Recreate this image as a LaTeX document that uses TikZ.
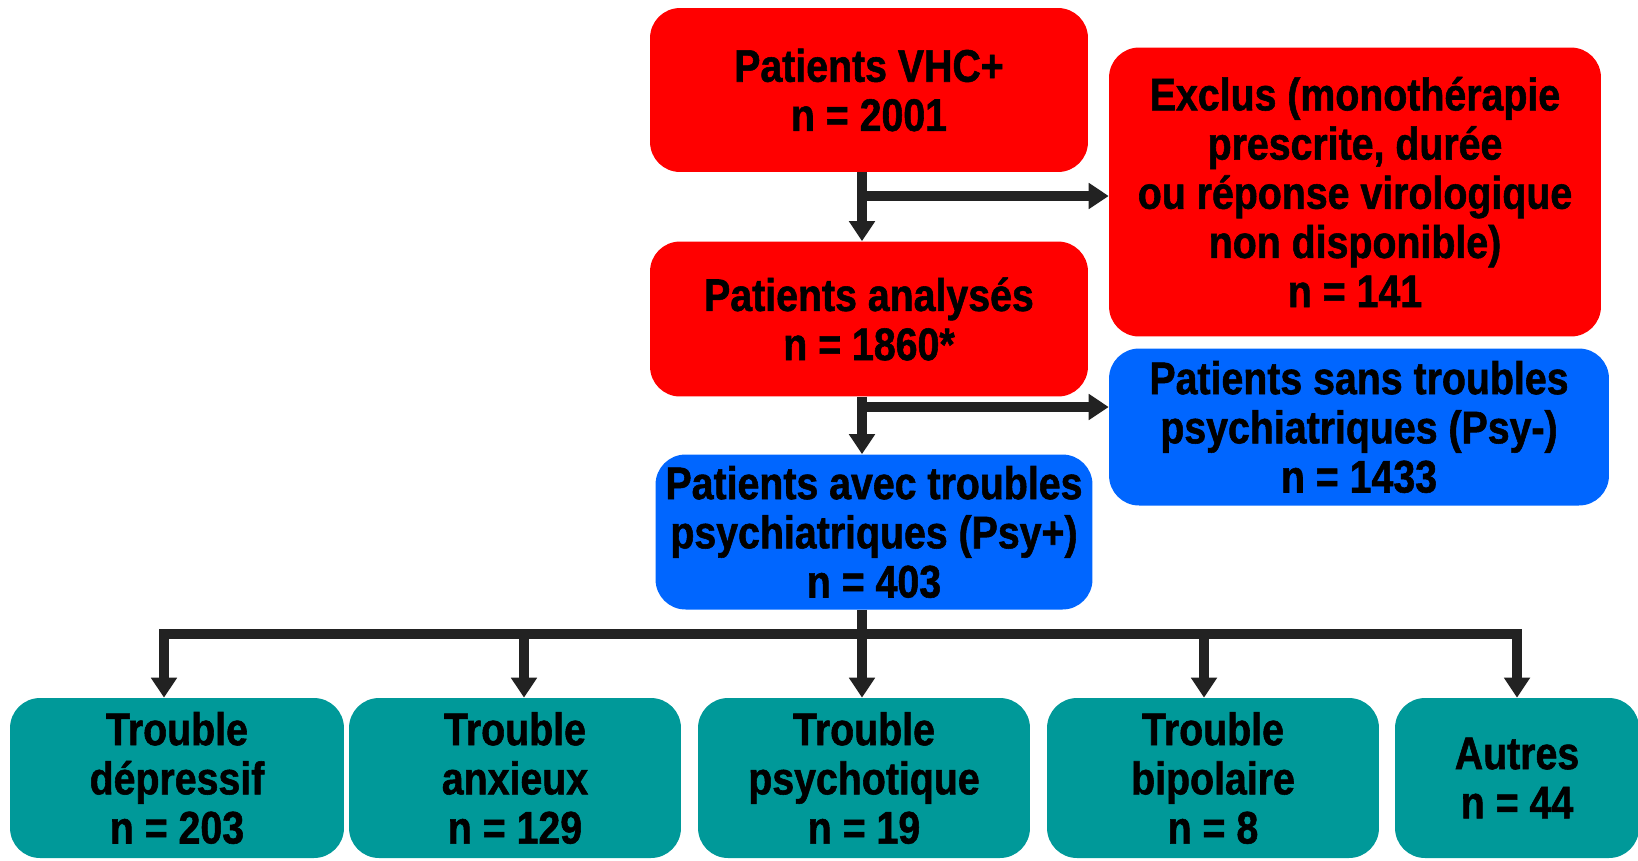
\documentclass[tikz,border=0pt]{standalone}
\usepackage{fontspec}
\setmainfont{Liberation Sans}[FakeStretch=0.86,BoldFeatures={FakeBold=1.2}]
\usetikzlibrary{positioning,arrows.meta}
\definecolor{vhcred}{HTML}{FF0000}
\definecolor{psyblue}{HTML}{0066FF}
\definecolor{trteal}{HTML}{009999}
\definecolor{arrowgray}{HTML}{222222}

\begin{document}
\begin{tikzpicture}[x=0.02cm,y=-0.02cm,
    boite/.style={rectangle,rounded corners=0.6cm,align=center,inner sep=0pt,
        font=\fontsize{26}{28}\selectfont\bfseries},
    rouge/.style={boite,fill=vhcred},
    bleu/.style={boite,fill=psyblue},
    trouble/.style={boite,fill=trteal,minimum width=6.64cm,minimum height=3.2cm},
    fleche/.style={draw=arrowgray,line width=0.2cm,-{Triangle[length=0.4cm,width=0.5cm]}},
    trait/.style={draw=arrowgray,line width=0.2cm}]
    \useasboundingbox (0,0) rectangle (1638,860);
    \fill[white] (0,0) rectangle (1638,860);

    % colonne centrale
    \node [rouge,minimum width=8.76cm,minimum height=3.28cm] (vhc) at (869,90) {Patients VHC+\\n = 2001};
    \node [rouge,minimum width=8.76cm,minimum height=3.1cm] (anal) at (869,319) {Patients analysés\\n = 1860*};
    \node [bleu,minimum width=8.74cm,minimum height=3.1cm] (psyp) at (874,532) {Patients avec troubles\\psychiatriques (Psy+)\\n = 403};

    % colonne de droite
    \node [rouge,minimum width=9.84cm,minimum height=5.78cm] (excl) at (1355,192) {Exclus (monothérapie\\prescrite, durée\\ou réponse virologique\\non disponible)\\n = 141};
    \node [bleu,minimum width=10cm,minimum height=3.14cm] (psym) at (1359,427) {Patients sans troubles\\psychiatriques (Psy-)\\n = 1433};

    % sous-groupes
    \node [trouble,minimum width=6.68cm] (t1) at (177,778) {Trouble\\dépressif\\n = 203};
    \node [trouble] (t2) at (515,778) {Trouble\\anxieux\\n = 129};
    \node [trouble] (t3) at (864,778) {Trouble\\psychotique\\n = 19};
    \node [trouble] (t4) at (1213,778) {Trouble\\bipolaire\\n = 8};
    \node [trouble,minimum width=4.88cm] (t5) at (1517,778) {Autres\\n = 44};

    \coordinate (spine) at (862,0);
    \coordinate (j1) at (862,196);
    \coordinate (j2) at (862,407);
    \coordinate (bar) at (862,634);
    \coordinate (b1) at (164,634);
    \coordinate (b2) at (524,634);
    \coordinate (b3) at (862,634);
    \coordinate (b4) at (1204,634);
    \coordinate (b5) at (1517,634);

    \draw [fleche] (vhc.south -| spine) -- (anal.north -| spine);
    \draw [fleche] (j1) -- (j1 -| excl.west);
    \draw [fleche] (anal.south -| spine) -- (psyp.north -| spine);
    \draw [fleche] (j2) -- (j2 -| psym.west);
    \draw [trait] (psyp.south -| spine) -- (bar);
    \draw [trait,line cap=rect] (b1) -- (b5);
    \foreach \i in {1,...,5}
        \draw [fleche] (b\i) -- (b\i |- t\i.north);
\end{tikzpicture}
\end{document}
